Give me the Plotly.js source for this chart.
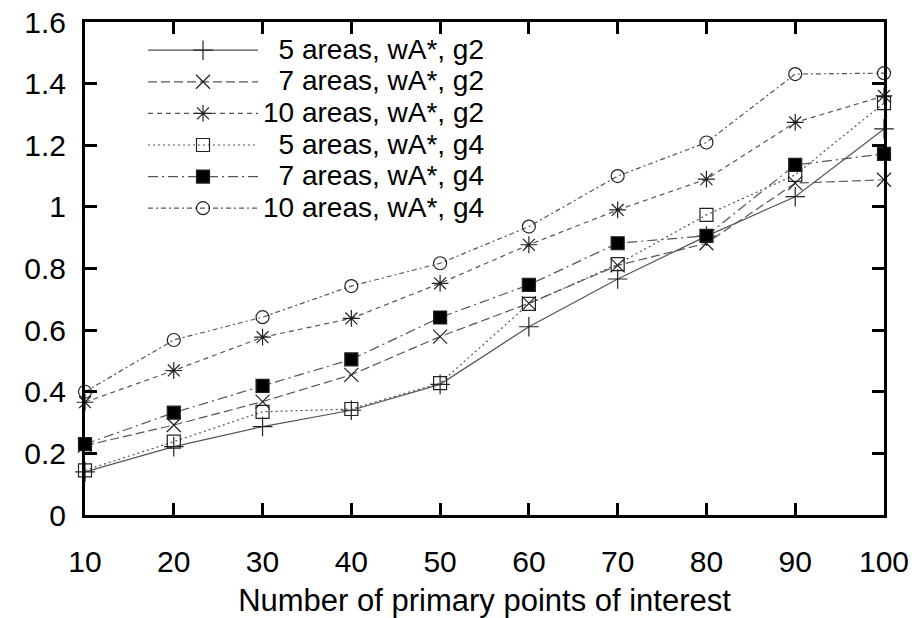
<!DOCTYPE html>
<html>
<head>
<meta charset="utf-8">
<script src="https://cdn.plot.ly/plotly-3.0.1.min.js"></script>
<style>
html,body{margin:0;padding:0;background:#fff;}
#chart{width:922px;height:618px;}
.legendtext{font-size:28px !important;}
</style>
</head>
<body>
<div id="chart"></div>
<script>
const xPoints = [10, 20, 30, 40, 50, 60, 70, 80, 90, 100];

const names = [
  "\u00A0\u00A05 areas, wA*, g2",
  "\u00A0\u00A07 areas, wA*, g2",
  "10 areas, wA*, g2",
  "\u00A0\u00A05 areas, wA*, g4",
  "\u00A0\u00A07 areas, wA*, g4",
  "10 areas, wA*, g4"
];

const areas5g2  = [0.14, 0.222, 0.287, 0.340, 0.424, 0.611, 0.766, 0.905, 1.033, 1.253];
const areas7g2  = [0.225, 0.292, 0.368, 0.455, 0.579, 0.687, 0.810, 0.882, 1.077, 1.088];
const areas10g2 = [0.366, 0.469, 0.577, 0.638, 0.752, 0.877, 0.990, 1.090, 1.274, 1.360];
const areas5g4  = [0.145, 0.238, 0.335, 0.344, 0.428, 0.685, 0.814, 0.974, 1.104, 1.337];
const areas7g4  = [0.230, 0.332, 0.419, 0.505, 0.641, 0.747, 0.882, 0.906, 1.136, 1.172];
const areas10g4 = [0.400, 0.568, 0.642, 0.743, 0.817, 0.936, 1.100, 1.209, 1.431, 1.434];

const yTicks = [0, 0.2, 0.4, 0.6, 0.8, 1, 1.2, 1.4, 1.6];

const series = [areas5g2, areas7g2, areas10g2, areas5g4, areas7g4, areas10g4];
const dashes = ["solid", "9px,4px", "5px,4px", "2px,3px", "10px,4px,2px,4px", "5px,3px,2px,3px"];
const symbols = ["cross-thin-open", "x-thin-open", "asterisk-open", "square-open", "square", "circle-open"];
const sizes = [14, 14, 14, 13, 13, 13];

const traces = series.map((ys, i) => ({
  type: "scatter",
  mode: "lines+markers",
  name: names[i],
  x: xPoints,
  y: ys,
  cliponaxis: false,
  line: {color: "#555", width: 1.2, dash: dashes[i]},
  marker: {symbol: symbols[i], size: sizes[i], color: i === 4 ? "#000" : "#222",
           line: {color: "#222", width: 1.2}}
}));

const fontFam = "Liberation Sans, Arial, Helvetica, sans-serif";

const layout = {
  width: 922,
  height: 618,
  margin: {l: 85, r: 38, t: 22, b: 103},
  paper_bgcolor: "#fff",
  plot_bgcolor: "#fff",
  font: {family: fontFam, color: "#000", size: 29},
  showlegend: true,
  legend: {
    x: 0.0726, y: 0.985, xanchor: "left", yanchor: "top",
    bgcolor: "rgba(0,0,0,0)",
    font: {family: fontFam, size: 22, color: "#000"},
    tracegroupgap: 0,
    itemwidth: 110
  },
  xaxis: {
    range: [10, 100],
    tickvals: xPoints,
    ticks: "inside",
    ticklen: 12,
    tickwidth: 3,
    tickcolor: "#000",
    showline: true,
    linewidth: 3,
    linecolor: "#000",
    mirror: "ticks",
    showgrid: false,
    zeroline: false,
    ticklabelstandoff: 18,
    tickfont: {family: fontFam, size: 30, color: "#000"},
    title: {text: "Number of primary points of interest", font: {family: fontFam, size: 31, color: "#000"}, standoff: 16}
  },
  yaxis: {
    range: [0, 1.6],
    tickvals: yTicks,
    ticks: "inside",
    ticklen: 12,
    tickwidth: 3,
    tickcolor: "#000",
    showline: true,
    linewidth: 3,
    linecolor: "#000",
    mirror: "ticks",
    showgrid: false,
    zeroline: false,
    ticklabelstandoff: 10,
    tickfont: {family: fontFam, size: 30, color: "#000"}
  }
};

Plotly.newPlot("chart", traces, layout, {displayModeBar: false, staticPlot: true});
</script>
</body>
</html>
